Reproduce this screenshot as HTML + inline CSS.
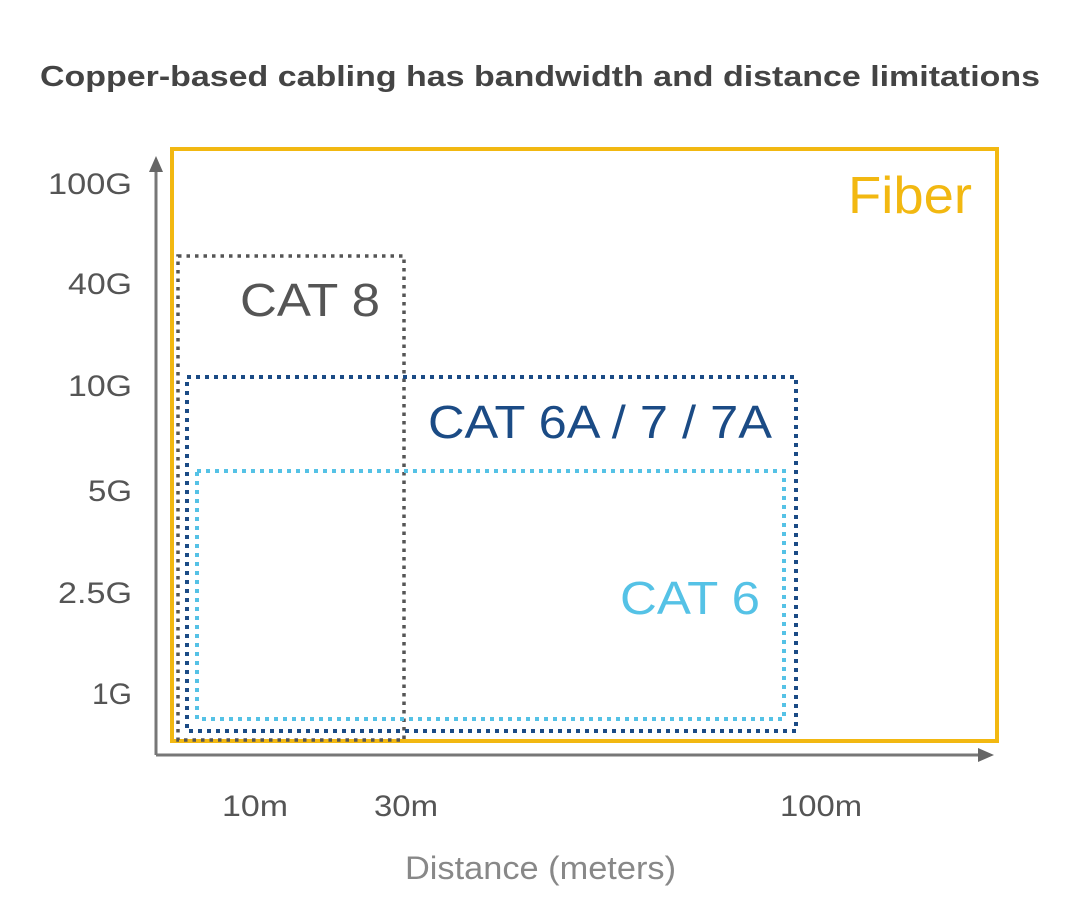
<!DOCTYPE html>
<html><head><style>
html,body{margin:0;padding:0;background:#fff;}
svg{display:block;}
text{font-family:"Liberation Sans",Arial,sans-serif;}
</style></head><body>
<svg width="1080" height="918" viewBox="0 0 1080 918" xmlns="http://www.w3.org/2000/svg">
<text x="40" y="86" font-size="29" font-weight="bold" fill="#444" textLength="1000" lengthAdjust="spacingAndGlyphs">Copper-based cabling has bandwidth and distance limitations</text>
<!-- axes -->
<line x1="156" y1="168" x2="156" y2="755" stroke="#777" stroke-width="3"/>
<polygon points="156,156 149,172 163,172" fill="#666"/>
<line x1="156" y1="755" x2="980" y2="755" stroke="#777" stroke-width="3"/>
<polygon points="994,755 978,748 978,762" fill="#666"/>
<!-- fiber -->
<rect x="172" y="149" width="825" height="592" fill="none" stroke="#f2b811" stroke-width="4"/>
<text x="848" y="213" font-size="52" fill="#f2b811" textLength="124" lengthAdjust="spacingAndGlyphs">Fiber</text>
<!-- CAT8 -->
<rect x="178" y="256" width="226" height="484" fill="none" stroke="#555" stroke-width="3.5" stroke-dasharray="3.5 5"/>
<text x="240" y="316" font-size="46" fill="#555" textLength="140" lengthAdjust="spacingAndGlyphs">CAT 8</text>
<!-- CAT6A -->
<rect x="187" y="377" width="609" height="354" fill="none" stroke="#1b4b85" stroke-width="4" stroke-dasharray="4 5"/>
<text x="428" y="438" font-size="46" fill="#1b4b85" textLength="344" lengthAdjust="spacingAndGlyphs">CAT 6A / 7 / 7A</text>
<!-- CAT6 -->
<rect x="197" y="471" width="587" height="248" fill="none" stroke="#55c2e6" stroke-width="4" stroke-dasharray="4 5"/>
<text x="620" y="614" font-size="46" fill="#55c2e6" textLength="140" lengthAdjust="spacingAndGlyphs">CAT 6</text>
<!-- y labels -->
<g font-size="30" fill="#555" lengthAdjust="spacingAndGlyphs">
<text x="48" y="194" textLength="84" lengthAdjust="spacingAndGlyphs">100G</text>
<text x="68" y="294" textLength="64" lengthAdjust="spacingAndGlyphs">40G</text>
<text x="68" y="396" textLength="64" lengthAdjust="spacingAndGlyphs">10G</text>
<text x="88" y="501" textLength="44" lengthAdjust="spacingAndGlyphs">5G</text>
<text x="58" y="603" textLength="74" lengthAdjust="spacingAndGlyphs">2.5G</text>
<text x="92" y="704" textLength="40" lengthAdjust="spacingAndGlyphs">1G</text>
<text x="222" y="816" textLength="66" lengthAdjust="spacingAndGlyphs">10m</text>
<text x="374" y="816" textLength="64" lengthAdjust="spacingAndGlyphs">30m</text>
<text x="780" y="816" textLength="82" lengthAdjust="spacingAndGlyphs">100m</text>
</g>
<text x="405" y="879" font-size="32" fill="#888" textLength="271" lengthAdjust="spacingAndGlyphs">Distance (meters)</text>
</svg>
</body></html>
